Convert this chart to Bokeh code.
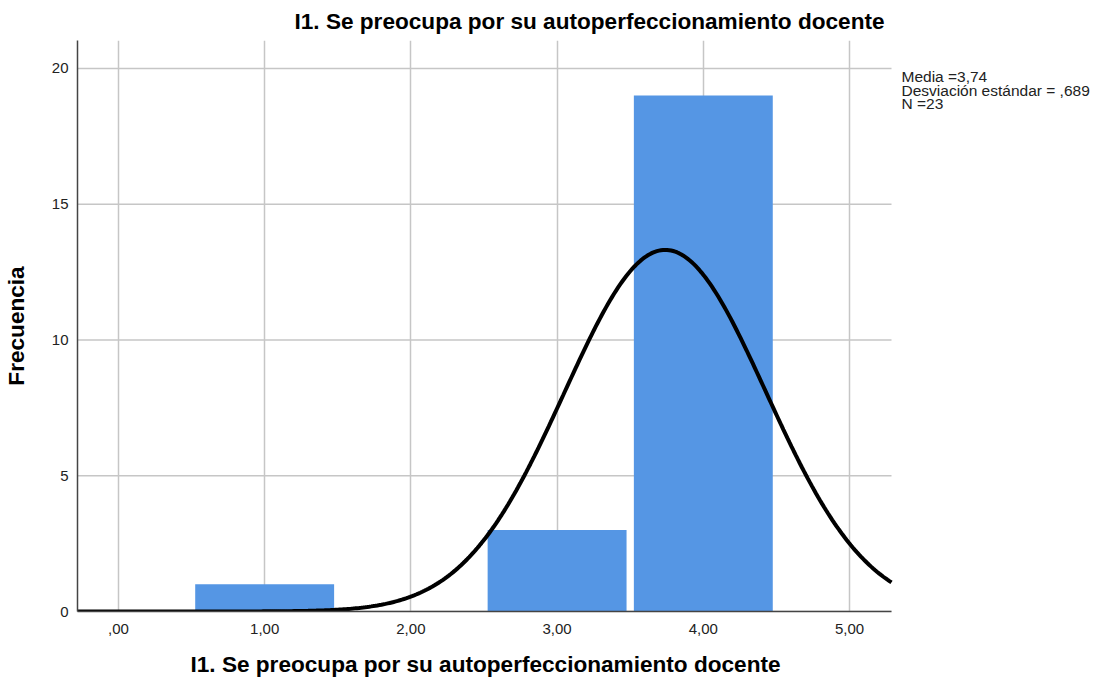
import numpy as np
from bokeh.plotting import figure
from bokeh.models import Range1d, FixedTicker, Label, Title
from bokeh.embed import file_html
from bokeh.resources import INLINE

# Data
categories = [1, 3, 4]
frequencies = [1, 3, 19]
mean_val = 3.74
std_val = 0.689
n_val = 23
x_ticks = [0, 1, 2, 3, 4, 5]
x_tick_labels = [",00", "1,00", "2,00", "3,00", "4,00", "5,00"]
y_ticks = [0, 5, 10, 15, 20]
title_text = "I1. Se preocupa por su autoperfeccionamiento docente"
x_label_text = "I1. Se preocupa por su autoperfeccionamiento docente"
y_label_text = "Frecuencia"
stats_lines = ["Media =3,74", "Desviación estándar = ,689", "N =23"]

FONT = "Liberation Sans"

# axis extents of the chart area
x_min, x_max = -0.28, 5.287
y_min, y_max = 0, 21.03
px_per_x = 814 / (x_max - x_min)
# the frame extends to the right to give room for the statistics text
x_frame_end = x_min + 1016 / px_per_x

p = figure(frame_width=1016, frame_height=571, output_backend="svg", toolbar_location=None,
           x_range=Range1d(x_min, x_frame_end), y_range=Range1d(y_min, y_max),
           min_border_left=70, min_border_right=0, min_border_top=32, min_border_bottom=0)

p.title.text = title_text
p.title.align = "left"
p.title.offset = 217
p.title.standoff = 13
p.title.text_font = FONT
p.title.text_font_size = "22.6px"
p.title.text_font_style = "bold"
p.title.text_color = "black"

# x axis label as a title below the axis, centred on the chart area
xlab = Title(text=x_label_text, align="left", offset=113, standoff=27,
             text_font=FONT, text_font_size="22.6px", text_font_style="bold",
             text_color="black", text_line_height=1.0)
p.add_layout(xlab, "below")

p.outline_line_color = None
p.background_fill_color = "white"
p.border_fill_color = "white"

GRID_COLOR = "#c6c6c6"
# vertical grid
p.xgrid.ticker = FixedTicker(ticks=x_ticks)
p.xgrid.grid_line_color = GRID_COLOR
p.xgrid.grid_line_width = 1.5
# horizontal grid limited to chart area
p.ygrid.grid_line_color = None
p.segment(x0=[x_min] * len(y_ticks), y0=y_ticks, x1=[x_max] * len(y_ticks), y1=y_ticks,
          line_color=GRID_COLOR, line_width=1.5)

# Axes
p.xaxis.ticker = FixedTicker(ticks=x_ticks)
p.xaxis.major_label_overrides = {t: l for t, l in zip(x_ticks, x_tick_labels)}
p.xaxis.bounds = (x_min, x_max)
p.yaxis.ticker = FixedTicker(ticks=y_ticks)
for ax in (p.xaxis, p.yaxis):
    ax.major_tick_line_color = None
    ax.minor_tick_line_color = None
    ax.axis_line_color = "#444444"
    ax.axis_line_width = 1.5
    ax.major_label_text_font = FONT
    ax.major_label_text_font_size = "15px"
    ax.major_label_text_color = "#222222"
    ax.axis_label_text_font = FONT
    ax.axis_label_text_font_size = "22.6px"
    ax.axis_label_text_font_style = "bold"
    ax.axis_label_text_color = "black"
p.yaxis.axis_label = y_label_text
p.xaxis.major_label_standoff = 6
p.yaxis.major_label_standoff = 3
p.yaxis.axis_label_standoff = 20

# Bars
p.vbar(x=categories, top=frequencies, width=0.95, bottom=0,
       fill_color="#5596e4", line_color=None)

# Normal curve from the stated mean, sd and N (bin width 1)
xs = np.linspace(x_min, x_max, 400)
ys = n_val * 1.0 / (std_val * np.sqrt(2 * np.pi)) * np.exp(-0.5 * ((xs - mean_val) / std_val) ** 2)
p.line(xs, ys, line_color="black", line_width=4)

# Stats annotation
stats_x = x_min + (902 - 78) / px_per_x
for i, s in enumerate(stats_lines):
    p.add_layout(Label(x=stats_x, y=19.70 - i * 0.497, text=s, text_font=FONT,
                       text_font_size="15.5px", text_baseline="middle", text_align="left",
                       text_color="#222222"))

open("out.html", "w").write(file_html(p, INLINE))
